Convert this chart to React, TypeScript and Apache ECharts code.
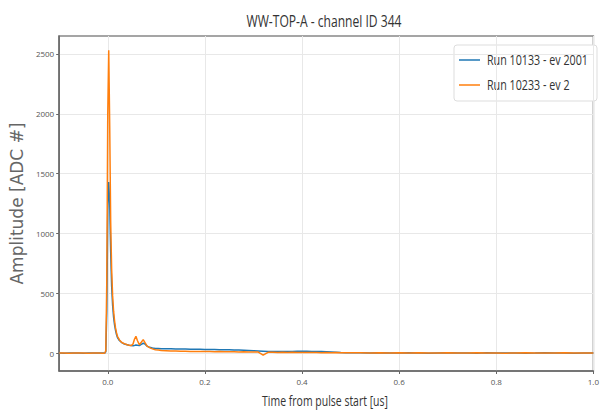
import React, { useEffect, useRef } from "react";
import * as echarts from "echarts";

// Sample times in microseconds relative to pulse start
const times: number[] = [
  -0.1, -0.09, -0.08, -0.07, -0.06, -0.05, -0.04, -0.03, -0.02, -0.01, -0.006,
  -0.004, -0.002, 0.0, 0.002, 0.004, 0.006, 0.008, 0.01, 0.012, 0.014, 0.016,
  0.018, 0.02, 0.024, 0.028, 0.032, 0.036, 0.04, 0.044, 0.048, 0.052, 0.055,
  0.058, 0.061, 0.065, 0.069, 0.073, 0.077, 0.081, 0.086, 0.092, 0.098, 0.104,
  0.11, 0.12, 0.13, 0.14, 0.15, 0.16, 0.17, 0.18, 0.19, 0.2,
  0.21, 0.22, 0.23, 0.24, 0.25, 0.26, 0.27, 0.28, 0.29, 0.3,
  0.31, 0.32, 0.33, 0.34, 0.35, 0.36, 0.37, 0.38, 0.39, 0.4,
  0.41, 0.42, 0.43, 0.44, 0.45, 0.46, 0.47, 0.48, 0.49, 0.5,
  0.52, 0.54, 0.56, 0.58, 0.6, 0.62, 0.64, 0.66, 0.68, 0.7, 0.72, 0.74, 0.76,
  0.78, 0.8, 0.82, 0.84, 0.86, 0.88, 0.9, 0.92, 0.94, 0.96, 0.98, 1.0,
];

// Run 10133 - ev 2001 (ADC counts)
const run10133: number[] = [
  1, -1, 0, 1, 0, -1, 1, 0, 0, 1, 0,
  10, 350, 1200, 1430, 1250, 850, 560, 400, 300, 235, 190,
  155, 130, 105, 90, 80, 74, 70, 66, 63, 62, 64,
  68, 66, 62, 72, 82, 74, 58, 48, 42, 39, 38,
  37, 36, 35, 34, 34, 33, 32, 32, 31, 30,
  30, 29, 28, 28, 27, 26, 25, 24, 22, 20,
  18, 16, 14, 13, 12, 12, 13, 14, 15, 16,
  15, 14, 14, 12, 10, 8, 6, 4, 3, 2,
  2, 1, 3, 1, 0, 2, 1, -1, 1, 2, 0, 1, -1,
  2, 0, 1, 1, -1, 0, 2, 1, 0, -1, 1, 0,
];

// Run 10233 - ev 2 (ADC counts)
const run10233: number[] = [
  0, 1, -1, 0, 1, 0, -1, 1, 0, -1, 1,
  20, 600, 2000, 2530, 1900, 1100, 700, 480, 350, 270, 210,
  170, 140, 110, 92, 82, 75, 70, 66, 62, 75, 115,
  140, 105, 70, 90, 112, 85, 58, 45, 35, 28, 25,
  22, 20, 18, 17, 16, 15, 14, 14, 13, 12,
  12, 11, 12, 10, 11, 10, 9, 10, 8, 9,
  8, -18, 6, 7, 5, 6, 5, 6, 4, 5,
  5, 4, 5, 3, 4, 3, 4, 2, 3, 2,
  3, 1, 2, 0, 2, 1, 3, 0, 1, 2, 0, 1, 2,
  0, 1, -1, 1, 2, 0, 1, 0, 2, 1, 0, 1,
];

const xTicks: number[] = [0, 0.2, 0.4, 0.6, 0.8, 1.0];
const yTicks: number[] = [0, 500, 1000, 1500, 2000, 2500];

const seriesNames: string[] = ["Run 10133 - ev 2001", "Run 10233 - ev 2"];
const seriesColors: string[] = ["#1f77b4", "#ff7f0e"];

const titleText = "WW-TOP-A - channel ID 344";
const xAxisName = "Time from pulse start [us]";
const yAxisName = "Amplitude [ADC #]";

const FONT = "'Open Sans', 'Noto Sans', sans-serif";

// Horizontal squeeze factor so a label in FONT spans the wanted width
function squeeze(text: string, size: number, width: number): number {
  const ctx = document.createElement("canvas").getContext("2d");
  if (!ctx) return 0.7;
  ctx.font = `${size}px ${FONT}`;
  const w = ctx.measureText(text).width;
  return w > 0 ? width / w : 0.7;
}

export default function App() {
  const ref = useRef<HTMLDivElement>(null);

  useEffect(() => {
    if (!ref.current) return;
    const chart = echarts.init(ref.current, undefined, { renderer: "svg" });
    const pairs = (vals: number[]) => times.map((t, i) => [t, vals[i]]);

    const titleScale = squeeze(titleText, 16, 155);
    const xNameScale = squeeze(xAxisName, 14, 126);
    const legendScale = squeeze(seriesNames[0], 14, 101);

    const legendItems: any[] = [];
    seriesNames.forEach((name, i) => {
      const cy = 60 + i * 25;
      legendItems.push({
        type: "line",
        shape: { x1: 459, y1: cy, x2: 480, y2: cy },
        style: { stroke: seriesColors[i], lineWidth: 1.5 },
      });
      legendItems.push({
        type: "text",
        x: 487,
        y: cy,
        scaleX: legendScale,
        style: {
          text: name,
          fontSize: 14,
          fontFamily: FONT,
          fill: "#333",
          textAlign: "left",
          textVerticalAlign: "middle",
          align: "left",
          verticalAlign: "middle",
        },
      });
    });

    chart.setOption({
      animation: false,
      backgroundColor: "#ffffff",
      graphic: [
        {
          type: "text",
          x: 324,
          y: 21,
          scaleX: titleScale,
          style: {
            text: titleText,
            fontSize: 16,
            fontFamily: FONT,
            fill: "#333",
            textAlign: "center",
            textVerticalAlign: "middle",
            align: "center",
            verticalAlign: "middle",
          },
        },
        {
          type: "text",
          x: 325,
          y: 401,
          scaleX: xNameScale,
          style: {
            text: xAxisName,
            fontSize: 14,
            fontFamily: FONT,
            fill: "#333",
            textAlign: "center",
            textVerticalAlign: "middle",
            align: "center",
            verticalAlign: "middle",
          },
        },
        {
          type: "group",
          z: 100,
          children: [
            {
              type: "rect",
              shape: { x: 454, y: 45, width: 143, height: 56, r: 3 },
              style: { fill: "#ffffff", stroke: "#dddddd", lineWidth: 1 },
            },
            ...legendItems,
          ],
        },
      ],
      grid: {
        left: 49,
        right: 3,
        top: 36,
        bottom: 41,
        show: true,
        borderColor: "#888",
        borderWidth: 1.5,
      },
      xAxis: {
        type: "value",
        min: -0.1,
        max: 1.0,
        axisLine: { show: true, onZero: false, lineStyle: { color: "#666", width: 1.5 } },
        axisTick: { show: true, length: 3, customValues: xTicks, lineStyle: { color: "#666" } },
        axisLabel: {
          customValues: xTicks,
          fontFamily: FONT,
          fontSize: 8,
          color: "#555",
          margin: 6,
          formatter: (v: number) => v.toFixed(1),
        },
        splitLine: { show: true, lineStyle: { color: "#e8e8e8", width: 1 } },
      },
      yAxis: {
        type: "value",
        min: -150,
        max: 2650,
        name: yAxisName,
        nameLocation: "middle",
        nameGap: 23,
        nameTextStyle: { fontFamily: "'DejaVu Sans', sans-serif", fontSize: 17, color: "#666" },
        axisLine: { show: true, onZero: false, lineStyle: { color: "#666", width: 1.5 } },
        axisTick: { show: true, length: 3, customValues: yTicks, lineStyle: { color: "#666" } },
        axisLabel: {
          customValues: yTicks,
          fontFamily: FONT,
          fontSize: 8,
          color: "#555",
          margin: 5,
          formatter: (v: number) => String(v),
        },
        splitLine: { show: true, lineStyle: { color: "#e8e8e8", width: 1 } },
      },
      series: [
        {
          name: seriesNames[0],
          type: "line",
          data: pairs(run10133),
          showSymbol: false,
          color: seriesColors[0],
          lineStyle: { width: 1.5, color: seriesColors[0] },
        },
        {
          name: seriesNames[1],
          type: "line",
          data: pairs(run10233),
          showSymbol: false,
          color: seriesColors[1],
          lineStyle: { width: 1.5, color: seriesColors[1] },
        },
      ],
    });

    return () => chart.dispose();
  }, []);

  return <div ref={ref} style={{ width: 602, height: 412, position: "absolute", left: 0, top: 0 }} />;
}
